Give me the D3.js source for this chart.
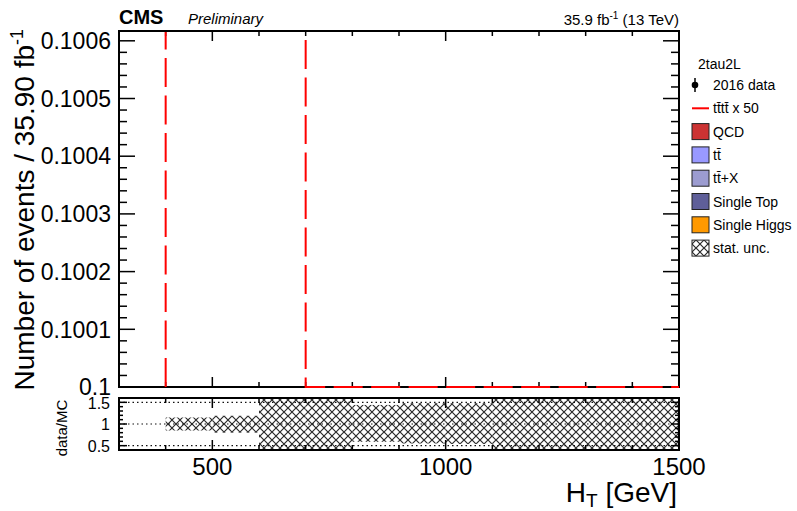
<!DOCTYPE html>
<html><head><meta charset="utf-8">
<script src="https://cdn.jsdelivr.net/npm/d3@7"></script>
<style>
body{margin:0;background:#fff;}
svg{display:block;font-family:"Liberation Sans",Arial,Helvetica,sans-serif;}
</style></head>
<body><svg id="c" width="797" height="511"></svg>
<script>
// ---- data ----
const xDomain = [300, 1500];
const yDomain = [0.1, 0.100617];
const yTicks = [0.1, 0.1001, 0.1002, 0.1003, 0.1004, 0.1005, 0.1006];
const yTickLabels = ["0.1", "0.1001", "0.1002", "0.1003", "0.1004", "0.1005", "0.1006"];
const xTicks = [500, 1000, 1500];
const xTickLabels = ["500", "1000", "1500"];
const ratioDomain = [0.4, 1.6];
const ratioTicks = [0.5, 1, 1.5];
const ratioTickLabels = ["0.5", "1", "1.5"];
// signal (tttt x 50) histogram
const sigEdges = [400, 500, 600, 700, 800, 900, 1000, 1100, 1200, 1300, 1400, 1500];
const sigValues = [1, 1, 1, 0, 0, 0, 0, 0, 0, 0, 0];
// ratio stat. unc. bands
const uncLow  = [400, 500, 600, 700, 800, 900, 1000, 1100];
const uncHigh = [500, 600, 700, 800, 900, 1000, 1100, 1500];
const uncDown = [0.85, 0.80, 0.0, 0.0, 0.59, 0.55, 0.54, 0.0];
const uncUp   = [1.15, 1.19, 2.0, 2.0, 1.44, 1.48, 1.48, 2.0];
// legend
const legendHeader = "2tau2L";
const legendLabels = ["2016 data", "tt\u0304tt\u0304 x 50", "QCD", "tt\u0304", "tt\u0304+X", "Single Top", "Single Higgs", "stat. unc."];
const legendTypes  = ["data", "line", "box", "box", "box", "box", "box", "hatch"];
const legendColors = ["#000", "#ff0000", "#cc3333", "#9999ff", "#9c9cd0", "#5f5f99", "#ff9900", "none"];

// ---- layout ----
const svg = d3.select("#c");
const L = 119, R = 679, T = 31, B = 387;
const rT = 398, rB = 450;
const x = d3.scaleLinear().domain(xDomain).range([L, R]);
const y = d3.scaleLinear().domain(yDomain).range([B, T]);
const yr = d3.scaleLinear().domain(ratioDomain).range([rB, rT]);

const defs = svg.append("defs");
const pat = defs.append("pattern").attr("id","hatch").attr("patternUnits","userSpaceOnUse")
  .attr("width",8).attr("height",8);
pat.append("path").attr("d","M-1,-1 L9,9 M9,-1 L-1,9").attr("stroke","#2a2a2a").attr("stroke-width",1.2);
defs.append("clipPath").attr("id","mainclip").append("rect")
  .attr("x",L).attr("y",T+1).attr("width",R-L).attr("height",B-T+1);
defs.append("clipPath").attr("id","ratioclip").append("rect")
  .attr("x",L).attr("y",rT).attr("width",R-L).attr("height",rB-rT);

// ---- ratio panel ----
const rg = svg.append("g").attr("clip-path","url(#ratioclip)");
rg.selectAll("rect.unc").data(uncLow).enter().append("rect")
  .attr("x",(d,i)=>x(d)).attr("width",(d,i)=>x(uncHigh[i])-x(d))
  .attr("y",(d,i)=>yr(uncUp[i])).attr("height",(d,i)=>yr(uncDown[i])-yr(uncUp[i]))
  .attr("fill","url(#hatch)");
rg.selectAll("line.ref").data(ratioTicks).enter().append("line")
  .attr("x1",L).attr("x2",R).attr("y1",d=>yr(d)).attr("y2",d=>yr(d))
  .attr("stroke","#111").attr("stroke-width",1.2).attr("stroke-dasharray","1.5,3");

// ---- ticks ----
const tg = svg.append("g").attr("stroke","#000").attr("stroke-width",1.5);
// main y ticks
const yMinor = d3.range(0, 31).map(i=>0.1 + i*0.00002).filter(v=>v<=yDomain[1]);
yMinor.forEach(v=>{
  const major = yTicks.some(t=>Math.abs(t-v)<1e-9);
  const len = major?16:8, p=y(v);
  tg.append("line").attr("x1",L).attr("x2",L+len).attr("y1",p).attr("y2",p);
  tg.append("line").attr("x1",R).attr("x2",R-len).attr("y1",p).attr("y2",p);
});
// x ticks (main + ratio)
d3.range(300, 1501, 100).forEach(v=>{
  const major = xTicks.includes(v);
  const p = x(v);
  const len = major?10:5;
  tg.append("line").attr("x1",p).attr("x2",p).attr("y1",T).attr("y2",T+len);
  tg.append("line").attr("x1",p).attr("x2",p).attr("y1",B).attr("y2",B-len);
  tg.append("line").attr("x1",p).attr("x2",p).attr("y1",rT).attr("y2",rT+len);
  tg.append("line").attr("x1",p).attr("x2",p).attr("y1",rB).attr("y2",rB-len);
});
// ratio y ticks
d3.range(4, 17).map(i=>i/10).forEach(v=>{
  const major = ratioTicks.some(t=>Math.abs(t-v)<1e-9);
  const len = major?8:4, p=yr(v);
  tg.append("line").attr("x1",L).attr("x2",L+len).attr("y1",p).attr("y2",p);
  tg.append("line").attr("x1",R).attr("x2",R-len).attr("y1",p).attr("y2",p);
});

// ---- frames ----
svg.append("rect").attr("x",L).attr("y",T).attr("width",R-L).attr("height",B-T)
  .attr("fill","none").attr("stroke","#000").attr("stroke-width",2);
svg.append("rect").attr("x",L).attr("y",rT).attr("width",R-L).attr("height",rB-rT)
  .attr("fill","none").attr("stroke","#000").attr("stroke-width",2);

// ---- signal histogram ----
const yc = v => Math.max(T-10, Math.min(B, y(v)));
let dPath = `M${x(sigEdges[0])},${B}`;
sigValues.forEach((v,i)=>{
  dPath += ` L${x(sigEdges[i])},${yc(v)} L${x(sigEdges[i+1])},${yc(v)}`;
});
svg.append("path").attr("d",dPath).attr("clip-path","url(#mainclip)")
  .attr("fill","none").attr("stroke","#ff0000").attr("stroke-width",2)
  .attr("stroke-dasharray","29,8.5");

// ---- tick labels ----
const lab = svg.append("g").attr("fill","#000");
yTicks.forEach((v,i)=>{
  lab.append("text").attr("x",111).attr("y",y(v)).attr("dy","0.36em")
    .attr("text-anchor","end").attr("font-size",23).text(yTickLabels[i]);
});
xTicks.forEach((v,i)=>{
  lab.append("text").attr("x",x(v)).attr("y",475)
    .attr("text-anchor","middle").attr("font-size",24).text(xTickLabels[i]);
});
ratioTicks.forEach((v,i)=>{
  lab.append("text").attr("x",110).attr("y",yr(v)).attr("dy","0.4em")
    .attr("text-anchor","end").attr("font-size",16).text(ratioTickLabels[i]);
});

// ---- titles ----
const yt = svg.append("text").attr("transform","translate(34,29) rotate(-90)")
  .attr("text-anchor","end").attr("font-size",28);
yt.append("tspan").text("Number of events / 35.90 fb");
yt.append("tspan").attr("font-size",18).attr("dy",-11).text("-1");

svg.append("text").attr("transform","translate(67,428) rotate(-90)")
  .attr("text-anchor","middle").attr("font-size",15).text("data/MC");

const xt = svg.append("text").attr("x",677).attr("y",502).attr("text-anchor","end").attr("font-size",28);
xt.append("tspan").text("H");
xt.append("tspan").attr("font-size",19).attr("dy",5).text("T");
xt.append("tspan").attr("dy",-5).text(" [GeV]");

svg.append("text").attr("x",119).attr("y",24).attr("font-size",20).attr("font-weight","bold").text("CMS");
svg.append("text").attr("x",188).attr("y",24).attr("font-size",15).attr("font-style","italic").text("Preliminary");
const lumi = svg.append("text").attr("x",679).attr("y",25).attr("text-anchor","end").attr("font-size",15);
lumi.append("tspan").text("35.9 fb");
lumi.append("tspan").attr("font-size",10).attr("dy",-6).text("-1");
lumi.append("tspan").attr("dy",6).text(" (13 TeV)");

// ---- legend ----
svg.append("text").attr("x",698).attr("y",69).attr("font-size",14).text(legendHeader);
legendLabels.forEach((lbl,i)=>{
  const cy = 85 + i*23.3;
  const g = svg.append("g");
  const t = legendTypes[i];
  if(t==="data"){
    g.append("line").attr("x1",695).attr("x2",695).attr("y1",cy-7).attr("y2",cy+7).attr("stroke","#000").attr("stroke-width",1.5);
    g.append("circle").attr("cx",695).attr("cy",cy).attr("r",3.3).attr("fill","#000");
  } else if(t==="line"){
    g.append("line").attr("x1",692).attr("x2",709).attr("y1",cy).attr("y2",cy).attr("stroke",legendColors[i]).attr("stroke-width",2);
  } else if(t==="box"){
    g.append("rect").attr("x",692).attr("y",cy-8).attr("width",17).attr("height",16)
      .attr("fill",legendColors[i]).attr("stroke","#222").attr("stroke-width",1);
  } else {
    g.append("rect").attr("x",692).attr("y",cy-8).attr("width",17).attr("height",16)
      .attr("fill","url(#hatch)").attr("stroke","#222").attr("stroke-width",1);
  }
  g.append("text").attr("x",713).attr("y",cy+5).attr("font-size",14).text(lbl);
});
</script></body></html>
